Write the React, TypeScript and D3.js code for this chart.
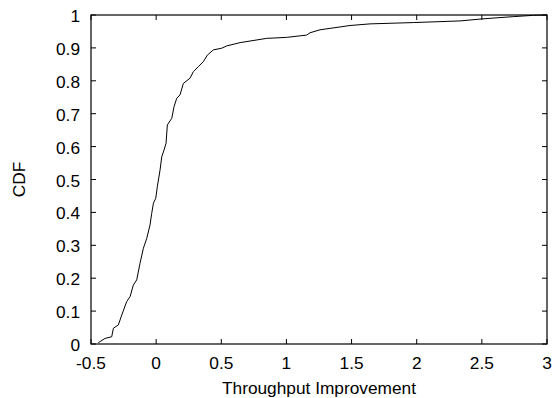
import React from "react";
import * as d3 from "d3";

const improvement = [-0.444, -0.392, -0.341, -0.328, -0.29, -0.264, -0.226, -0.2, -0.175, -0.149, -0.124, -0.098, -0.072, -0.047, -0.034, -0.021, -0.003, 0.009, 0.03, 0.043, 0.061, 0.076, 0.086, 0.12, 0.137, 0.158, 0.183, 0.209, 0.26, 0.286, 0.324, 0.362, 0.393, 0.439, 0.503, 0.542, 0.644, 0.849, 1.002, 1.156, 1.181, 1.258, 1.488, 1.641, 1.974, 2.332, 2.498, 2.741, 2.895, 3.0];
const cdf = [0.004, 0.017, 0.022, 0.048, 0.058, 0.088, 0.129, 0.144, 0.179, 0.195, 0.245, 0.291, 0.321, 0.362, 0.397, 0.428, 0.443, 0.478, 0.529, 0.569, 0.59, 0.61, 0.666, 0.686, 0.721, 0.747, 0.757, 0.792, 0.808, 0.828, 0.843, 0.858, 0.878, 0.894, 0.899, 0.906, 0.916, 0.929, 0.932, 0.939, 0.946, 0.955, 0.968, 0.973, 0.977, 0.982, 0.988, 0.995, 0.999, 1.0];
const xTicks = [-0.5, 0, 0.5, 1, 1.5, 2, 2.5, 3];
const xTickLabels = ["-0.5", "0", "0.5", "1", "1.5", "2", "2.5", "3"];
const yTicks = [0, 0.1, 0.2, 0.3, 0.4, 0.5, 0.6, 0.7, 0.8, 0.9, 1];
const yTickLabels = ["0", "0.1", "0.2", "0.3", "0.4", "0.5", "0.6", "0.7", "0.8", "0.9", "1"];

const W = 552, H = 398;
const L = 91, R = 547, T = 15, B = 344;
const FONT = "'Liberation Sans', Arial, Helvetica, sans-serif";
const FS = 17.3;

export default function App() {
  const x = d3.scaleLinear().domain([-0.5, 3]).range([L, R]);
  const y = d3.scaleLinear().domain([0, 1]).range([B, T]);
  const pts: [number, number][] = improvement.map((v, i) => [v, cdf[i]]);
  const line = d3.line<[number, number]>().x(d => x(d[0])).y(d => y(d[1]));
  const tl = 5;
  return (
    <svg width={W} height={H} style={{ position: "absolute", left: 0, top: 0, background: "#fff" }} fontFamily={FONT}>
      <rect x={0} y={0} width={W} height={H} fill="#fff" />
      {xTicks.map((t, i) => (
        <g key={"x" + i}>
          <line x1={x(t)} x2={x(t)} y1={B} y2={B - tl} stroke="#000" strokeWidth={1} />
          <line x1={x(t)} x2={x(t)} y1={T} y2={T + tl} stroke="#000" strokeWidth={1} />
          <text x={x(t)} y={368.5} fontSize={FS} textAnchor="middle" fill="#000">{xTickLabels[i]}</text>
        </g>
      ))}
      {yTicks.map((t, i) => (
        <g key={"y" + i}>
          <line x1={L} x2={L + tl} y1={y(t)} y2={y(t)} stroke="#000" strokeWidth={1} />
          <line x1={R} x2={R - tl} y1={y(t)} y2={y(t)} stroke="#000" strokeWidth={1} />
          <text x={80} y={y(t) + 7} fontSize={FS} textAnchor="end" fill="#000">{yTickLabels[i]}</text>
        </g>
      ))}
      <path d={line(pts) || ""} fill="none" stroke="#000" strokeWidth={1} />
      <rect x={L} y={T} width={R - L} height={B - T} fill="none" stroke="#000" strokeWidth={1.2} />
      <text x={(L + R) / 2} y={394} fontSize={FS} textAnchor="middle" fill="#000">Throughput Improvement</text>
      <text transform={`translate(25, ${(T + B) / 2}) rotate(-90)`} fontSize={FS} textAnchor="middle" fill="#000">CDF</text>
    </svg>
  );
}
